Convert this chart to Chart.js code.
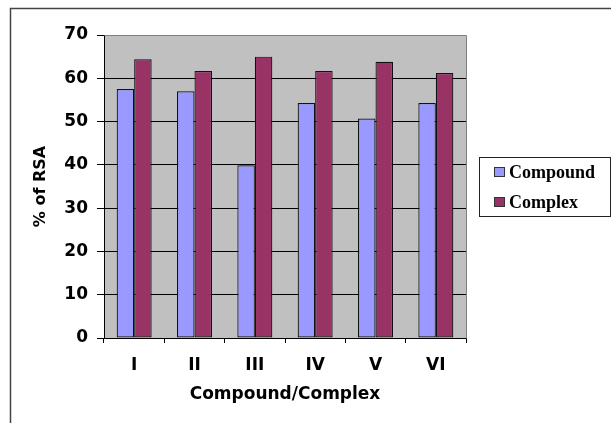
<!DOCTYPE html>
<html>
<head>
<meta charset="utf-8">
<title>% of RSA</title>
<script src="https://cdn.jsdelivr.net/npm/chart.js@4/dist/chart.umd.min.js"></script>
<style>
  html, body { margin: 0; padding: 0; background: #fff; }
  canvas { display: block; }
</style>
</head>
<body>
<canvas id="chart" width="611" height="423"></canvas>
<script>
// Radical scavenging activity of the free compounds and their complexes
const categories = ['I', 'II', 'III', 'IV', 'V', 'VI'];
const compoundValues = [57.5, 57.0, 39.9, 54.3, 50.7, 54.3];
const complexValues = [64.4, 61.7, 65.0, 61.7, 63.8, 61.2];
const yTickValues = [0, 10, 20, 30, 40, 50, 60, 70];
const seriesNames = ['Compound', 'Complex'];
const seriesColors = ['#9999FF', '#993366'];

const axisFont = { family: '"DejaVu Sans", sans-serif', weight: 'bold', size: 17 };

// Grey plot background and outer frame
const framePlugin = {
  id: 'frame',
  beforeDraw(chart) {
    const { ctx, chartArea: a } = chart;
    ctx.save();
    ctx.fillStyle = '#C0C0C0';
    ctx.fillRect(a.left, a.top, a.right - a.left, a.bottom - a.top);
    ctx.restore();
  },
  afterDraw(chart) {
    const { ctx, chartArea: a } = chart;
    ctx.save();
    // plot border (top and right edges)
    ctx.strokeStyle = '#808080';
    ctx.lineWidth = 1;
    ctx.beginPath();
    ctx.moveTo(Math.round(a.left) + 0.5, Math.round(a.top) + 0.5);
    ctx.lineTo(Math.round(a.right) + 0.5, Math.round(a.top) + 0.5);
    ctx.lineTo(Math.round(a.right) + 0.5, Math.round(a.bottom) + 0.5);
    ctx.stroke();
    // outer chart frame
    ctx.strokeStyle = '#444';
    ctx.lineWidth = 1.5;
    ctx.beginPath();
    ctx.moveTo(10.5, chart.height);
    ctx.lineTo(10.5, 8.5);
    ctx.lineTo(chart.width, 8.5);
    ctx.stroke();
    ctx.restore();
  }
};

// Boxed legend on the right
const boxLegendPlugin = {
  id: 'boxLegend',
  afterDraw(chart) {
    const { ctx } = chart;
    const box = { x: 479.5, y: 157.5, w: 131, h: 59 };
    ctx.save();
    ctx.strokeStyle = '#222';
    ctx.lineWidth = 1;
    ctx.strokeRect(box.x, box.y, box.w, box.h);
    ctx.font = 'bold 18px "Liberation Serif", serif';
    ctx.textBaseline = 'middle';
    ctx.textAlign = 'left';
    chart.data.datasets.forEach((ds, i) => {
      const cy = 172 + i * 30;
      ctx.fillStyle = ds.backgroundColor;
      ctx.fillRect(494, cy - 4.5, 10, 9);
      ctx.strokeStyle = '#333';
      ctx.strokeRect(494.5, cy - 4.5, 10, 9);
      ctx.fillStyle = '#000';
      ctx.fillText(ds.label, 509, cy + 1);
    });
    ctx.restore();
  }
};

new Chart(document.getElementById('chart'), {
  type: 'bar',
  data: {
    labels: categories,
    datasets: [
      {
        label: seriesNames[0],
        data: compoundValues,
        backgroundColor: seriesColors[0],
        borderColor: '#111',
        borderWidth: 1.2,
        borderSkipped: false
      },
      {
        label: seriesNames[1],
        data: complexValues,
        backgroundColor: seriesColors[1],
        borderColor: '#111',
        borderWidth: 1.2,
        borderSkipped: false
      }
    ]
  },
  options: {
    responsive: false,
    animation: false,
    devicePixelRatio: 1,
    layout: { padding: { left: 0, top: 35, right: 145, bottom: 0 } },
    datasets: { bar: { categoryPercentage: 0.58, barPercentage: 1.0 } },
    plugins: {
      legend: { display: false },
      tooltip: { enabled: false }
    },
    scales: {
      x: {
        afterFit(scale) { scale.height = 85; },
        grid: {
          offset: true,
          drawOnChartArea: false,
          drawTicks: true,
          tickLength: 5,
          color: '#000',
          tickColor: '#000'
        },
        border: { display: true, color: '#000', width: 1 },
        ticks: { color: '#000', font: axisFont, padding: 12, maxRotation: 0 },
        title: {
          display: true,
          text: 'Compound/Complex',
          color: '#000',
          font: { family: '"DejaVu Sans", sans-serif', weight: 'bold', size: 17 },
          padding: { top: 0, bottom: 18 }
        }
      },
      y: {
        min: 0,
        max: 70,
        afterFit(scale) { scale.width = 104; },
        afterBuildTicks(scale) { scale.ticks = yTickValues.map(v => ({ value: v })); },
        grid: {
          drawTicks: true,
          tickLength: 7,
          color: ctx => (ctx.tick && ctx.tick.value === 70 ? '#808080' : '#000'),
          tickColor: '#000'
        },
        border: { display: true, color: '#000', width: 1 },
        ticks: { color: '#000', font: axisFont, padding: 9 },
        title: {
          display: true,
          text: '% of RSA',
          color: '#000',
          font: { family: '"DejaVu Sans", sans-serif', weight: 'bold', size: 16 },
          padding: { top: 31, bottom: 0 }
        }
      }
    }
  },
  plugins: [framePlugin, boxLegendPlugin]
});
</script>
</body>
</html>
